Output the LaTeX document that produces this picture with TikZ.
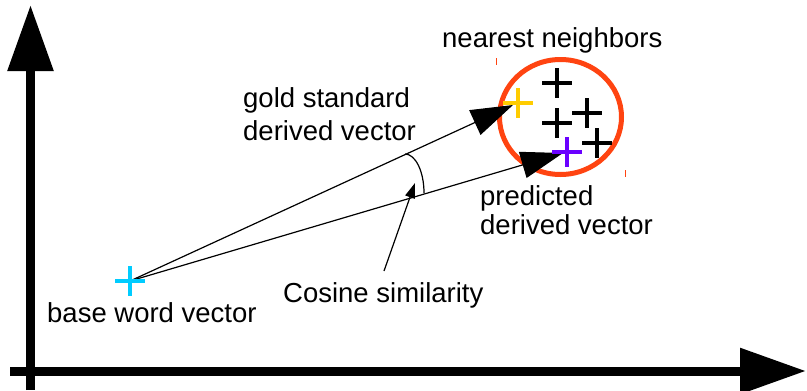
\documentclass[tikz,border=0pt]{standalone}
\usepackage{fontspec}
\setmainfont{Liberation Sans}
\usetikzlibrary{arrows.meta}
\definecolor{goldc}{HTML}{FFCC00}
\definecolor{predc}{HTML}{6A00FF}
\definecolor{basec}{HTML}{00CCFF}
\definecolor{nnred}{HTML}{FF4411}
\begin{document}
\begin{tikzpicture}[x=1pt,y=-1pt,
  lbl/.style={anchor=base west, inner sep=0pt, font=\fontsize{27.5}{33}\selectfont},
  vec/.style={line width=1.2pt, -{Triangle[length=42pt,width=27pt]}},
  axisline/.style={line width=9pt, line cap=butt, -{Triangle[length=66pt,width=44pt]}},
  plus/.pic={\draw[line width=4pt,#1] (-15,0) -- (15,0) (0,-15) -- (0,15);}
]
\useasboundingbox (0,0) rectangle (807,391);

% axes
\coordinate (yb) at (30.5,390);
\coordinate (yt) at (30.5,5);
\coordinate (xl) at (10,371);
\coordinate (xr) at (806,371);
\draw[axisline] (yb) -- (yt);
\draw[axisline] (xl) -- (xr);

% points
\coordinate (base) at (130,281);
\coordinate (gold) at (518,103);
\coordinate (pred) at (567,152);
\coordinate (goldtip) at (513,105);
\coordinate (predtip) at (563,153);

% nearest neighbours circle
\draw[nnred, line width=5pt] (560.5,117) ellipse [x radius=61, y radius=57.5];
\draw[nnred, line width=1pt] (496,58) -- (496,65);
\draw[nnred, line width=1pt] (625,170) -- (625,177);

% vectors
\draw[vec] (base) -- (goldtip);
\draw[vec] (base) -- (predtip);

% angle arc
\coordinate (arcstart) at (405,154);
\draw[line width=1.2pt] (arcstart) arc[start angle=-90, end angle=0, x radius=19, y radius=39];

% crosses
\pic at (base) {plus=basec};
\pic at (gold) {plus=goldc};
\pic at (pred) {plus=predc};
\pic at (557,83) {plus=black};
\pic at (587,113) {plus=black};
\pic at (557,123) {plus=black};
\pic at (597,143) {plus=black};

% labels
\node[lbl] (nn) at (442,47) {nearest neighbors};
\node[lbl] (gold1) at (243,107) {gold standard};
\node[lbl] (gold2) at (243,140) {derived vector};
\node[lbl] (pred1) at (480,205) {predicted};
\node[lbl] (pred2) at (480,234) {derived vector};
\node[lbl] (basel) at (47,322) {base word vector};
\node[lbl] (cosl) at (283,302) {Cosine similarity};

% cosine pointer
\coordinate (cosstart) at (384,271);
\coordinate (costip) at (415,183);
\draw[line width=1.2pt, -{Triangle[length=15pt,width=10pt]}] (cosstart) -- (costip);
\end{tikzpicture}
\end{document}
